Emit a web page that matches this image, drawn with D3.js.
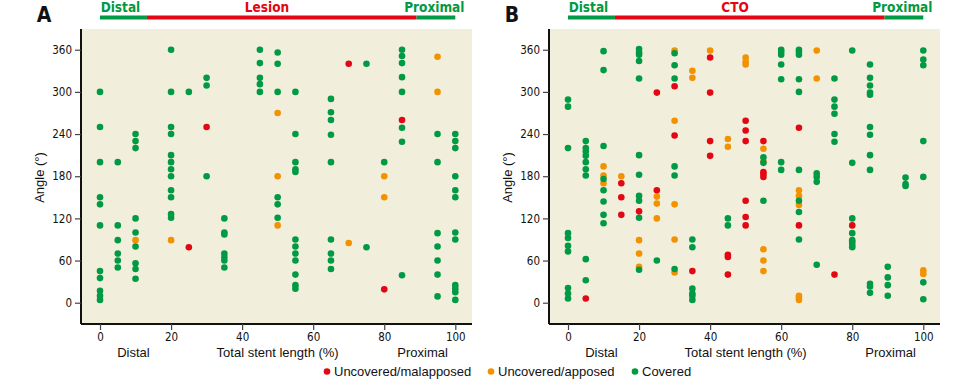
<!DOCTYPE html>
<html>
<head>
<meta charset="utf-8">
<script src="https://cdn.jsdelivr.net/npm/d3@7/dist/d3.min.js"></script>
<style>
  html, body { margin: 0; padding: 0; background: #ffffff; }
  svg { display: block; }
</style>
</head>
<body>
<svg id="chart" width="977" height="379"></svg>
<script>
// ---------- DATA ----------
// each point: [position along total stent length (%), angle (degrees)]
const xTicks = [0, 20, 40, 60, 80, 100];
const yTicks = [0, 60, 120, 180, 240, 300, 360];
const statusLabels = ["Uncovered/malapposed", "Uncovered/apposed", "Covered"];
const panelLetters = ["A", "B"];
const middleSegmentLabels = ["Lesion", "CTO"];
const segmentBounds = [0, 13.2, 89.1, 100]; // distal | lesion | proximal (% of stent)

const aCovered = [
  [0,300],[0,250],[0,200],[0,150],[0,140],[0,110],[0,45],[0,35],[0,17],[0,10],[0,4],
  [5,200],[5,110],[5,89],[5,70],[5,60],[5,50],
  [10,240],[10,230],[10,220],[10,120],[10,100],[10,80],[10,56],[10,48],[10,34],
  [20,360],[20,300],[20,250],[20,240],[20,210],[20,200],[20,190],[20,180],[20,160],[20,150],[20,126],[20,121],
  [25,300],
  [30,320],[30,309],[30,180],
  [35,120],[35,100],[35,97],[35,70],[35,65],[35,60],[35,50],
  [45,360],[45,341],[45,320],[45,311],[45,300],
  [50,356],[50,340],[50,300],[50,150],[50,140],[50,121],
  [55,300],[55,240],[55,200],[55,190],[55,186],[55,90],[55,80],[55,70],[55,60],[55,40],[55,25],[55,20],
  [65,290],[65,271],[65,260],[65,239],[65,200],[65,90],[65,70],[65,60],[65,48],
  [75,340],[75,79],
  [80,200],
  [85,360],[85,351],[85,341],[85,321],[85,300],[85,249],[85,229],[85,39],
  [95,240],[95,200],[95,99],[95,80],[95,60],[95,40],[95,9],
  [100,240],[100,230],[100,220],[100,180],[100,160],[100,150],[100,100],[100,90],[100,25],[100,20],[100,15],[100,4]
];
const aApposed = [
  [10,89],[20,89],[50,270],[50,180],[50,110],[70,85],[80,180],[80,150],[95,350],[95,300]
];
const aMalapposed = [
  [25,79],[30,250],[70,340],[80,19],[85,260]
];

const bCovered = [
  [0,289],[0,279],[0,220],[0,99],[0,92],[0,81],[0,73],[0,21],[0,13],[0,6],
  [5,230],[5,220],[5,215],[5,209],[5,200],[5,190],[5,181],[5,62],[5,32],
  [10,358],[10,331],[10,223],[10,176],[10,160],[10,144],[10,125],[10,113],
  [20,361],[20,356],[20,353],[20,344],[20,319],[20,210],[20,182],[20,152],[20,145],[20,121],[20,47],
  [25,60],
  [30,355],[30,338],[30,319],[30,194],[30,181],[30,48],
  [35,90],[35,79],[35,20],[35,13],[35,10],[35,4],
  [45,120],[45,110],
  [55,207],[55,199],[55,145],
  [60,360],[60,357],[60,353],[60,339],[60,318],[60,200],[60,189],
  [65,360],[65,357],[65,353],[65,318],[65,300],[65,189],[65,145],[65,129],[65,90],
  [70,184],[70,179],[70,172],[70,54],
  [75,319],[75,289],[75,279],[75,269],[75,240],[75,229],
  [80,359],[80,199],[80,120],[80,99],[80,89],[80,86],[80,82],[80,79],
  [85,339],[85,320],[85,309],[85,299],[85,296],[85,250],[85,239],[85,210],[85,189],[85,27],[85,23],[85,14],
  [90,51],[90,36],[90,25],[90,10],
  [95,178],[95,169],[95,166],
  [100,359],[100,346],[100,338],[100,230],[100,179],[100,29],[100,5]
];
const bApposed = [
  [10,194],[10,181],[10,170],
  [15,180],
  [20,89],[20,70],[20,51],
  [25,151],[25,141],[25,120],
  [30,359],[30,259],[30,140],[30,90],[30,43],
  [35,330],[35,320],
  [40,359],
  [45,233],[45,222],
  [50,349],[50,343],[50,339],
  [55,219],[55,201],[55,76],[55,60],[55,45],
  [65,160],[65,152],[65,139],[65,10],[65,7],[65,4],
  [70,359],[70,319],
  [100,46],[100,41]
];
const bMalapposed = [
  [5,6],
  [15,170],[15,150],[15,125],
  [20,130],
  [25,299],[25,160],
  [30,308],[30,238],
  [35,45],
  [40,349],[40,299],[40,230],[40,209],
  [45,68],[45,65],[45,40],
  [50,259],[50,245],[50,230],[50,145],[50,122],[50,110],
  [55,230],[55,186],[55,183],[55,179],
  [65,249],[65,110],
  [75,40],
  [80,110]
];

// ---------- STYLE ----------
const GREEN = "#009a44";
const RED = "#e30613";
const ORANGE = "#f39200";
const BG = "#f2eedc";
const statusColors = [RED, ORANGE, GREEN];
const NARROW = "'Liberation Sans Narrow', 'DejaVu Sans Condensed', 'Liberation Sans', Arial, sans-serif";
const SANS = "'Liberation Sans', Arial, sans-serif";

const svg = d3.select("#chart");

const panels = [
  { left: 81, letter: panelLetters[0], mid: middleSegmentLabels[0],
    covered: aCovered, apposed: aApposed, malapposed: aMalapposed },
  { left: 549, letter: panelLetters[1], mid: middleSegmentLabels[1],
    covered: bCovered, apposed: bApposed, malapposed: bMalapposed }
];

const plotW = 391, plotTop = 29, plotBottom = 324;

panels.forEach(p => {
  const x = d3.scaleLinear().domain([-5.35, 104.7]).range([p.left, p.left + plotW]);
  const y = d3.scaleLinear().domain([-30.3, 389.5]).range([plotBottom, plotTop]);
  const g = svg.append("g");

  g.append("rect")
    .attr("x", p.left).attr("y", plotTop)
    .attr("width", plotW).attr("height", plotBottom - plotTop)
    .attr("fill", BG);

  // points: orange, green, red order
  const layers = [[p.apposed, ORANGE], [p.covered, GREEN], [p.malapposed, RED]];
  layers.forEach(([data, col]) => {
    g.append("g").selectAll("circle").data(data).join("circle")
      .attr("cx", d => x(d[0]))
      .attr("cy", d => y(d[1]))
      .attr("r", 3.3)
      .attr("fill", col);
  });

  // axes
  const yAxis = d3.axisLeft(y).tickValues(yTicks).tickSize(6).tickPadding(3);
  const yg = g.append("g").attr("transform", `translate(${p.left},0)`).call(yAxis);
  yg.select(".domain").attr("d", `M0,${plotTop}V${plotBottom}`).attr("stroke", "#111").attr("stroke-width", 2);
  yg.selectAll(".tick line").attr("stroke", "#444").attr("stroke-width", 1.2);
  yg.selectAll(".tick text").attr("font-family", NARROW).attr("font-size", 11.5).attr("fill", "#111");

  const xAxis = d3.axisBottom(x).tickValues(xTicks).tickSize(6).tickPadding(3);
  const xg = g.append("g").attr("transform", `translate(0,${plotBottom})`).call(xAxis);
  xg.select(".domain").attr("d", `M${p.left},0H${p.left + plotW}`).attr("stroke", "#111").attr("stroke-width", 2);
  xg.selectAll(".tick line").attr("stroke", "#444").attr("stroke-width", 1.2);
  xg.selectAll(".tick text").attr("font-family", NARROW).attr("font-size", 11.5).attr("fill", "#111");

  // axis titles
  g.append("text")
    .attr("transform", `translate(${p.left - 37},${(plotTop + plotBottom) / 2 + 1}) rotate(-90)`)
    .attr("text-anchor", "middle")
    .attr("font-family", SANS).attr("font-size", 13).attr("fill", "#111")
    .text("Angle (°)");
  g.append("text")
    .attr("x", x(50)).attr("y", 357)
    .attr("text-anchor", "middle")
    .attr("font-family", SANS).attr("font-size", 13).attr("fill", "#111")
    .text("Total stent length (%)");
  g.append("text")
    .attr("x", x(9.4)).attr("y", 357)
    .attr("text-anchor", "middle")
    .attr("font-family", SANS).attr("font-size", 13).attr("fill", "#111")
    .text("Distal");
  g.append("text")
    .attr("x", x(90.8)).attr("y", 357)
    .attr("text-anchor", "middle")
    .attr("font-family", SANS).attr("font-size", 13).attr("fill", "#111")
    .text("Proximal");

  // top segment bar
  const segCols = [GREEN, RED, GREEN];
  for (let i = 0; i < 3; i++) {
    g.append("rect")
      .attr("x", x(segmentBounds[i])).attr("y", 15.5)
      .attr("width", x(segmentBounds[i + 1]) - x(segmentBounds[i]))
      .attr("height", 4)
      .attr("fill", segCols[i]);
  }
  const topLabel = (txt, cx, col) => g.append("text")
    .attr("x", cx).attr("y", 12)
    .attr("text-anchor", "middle")
    .attr("font-family", NARROW).attr("font-weight", "bold")
    .attr("font-size", 13.5).attr("fill", col)
    .text(txt);
  topLabel("Distal", (x(0) + x(segmentBounds[1])) / 2 - 3, GREEN);
  topLabel(p.mid, x(47), RED);
  topLabel("Proximal", x(94.1), GREEN);

  // panel letter
  g.append("text")
    .attr("x", p.left - 37).attr("y", 22)
    .attr("text-anchor", "middle")
    .attr("font-family", NARROW).attr("font-weight", "bold")
    .attr("font-size", 21).attr("fill", "#111")
    .text(p.letter);
});

// legend
const legendX = [327, 491, 635];
const lg = svg.append("g");
statusLabels.forEach((lab, i) => {
  lg.append("circle").attr("cx", legendX[i]).attr("cy", 371.5).attr("r", 3.3).attr("fill", statusColors[i]);
  lg.append("text")
    .attr("x", legendX[i] + 7).attr("y", 376)
    .attr("font-family", SANS).attr("font-size", 13).attr("fill", "#111")
    .text(lab);
});
</script>
</body>
</html>
